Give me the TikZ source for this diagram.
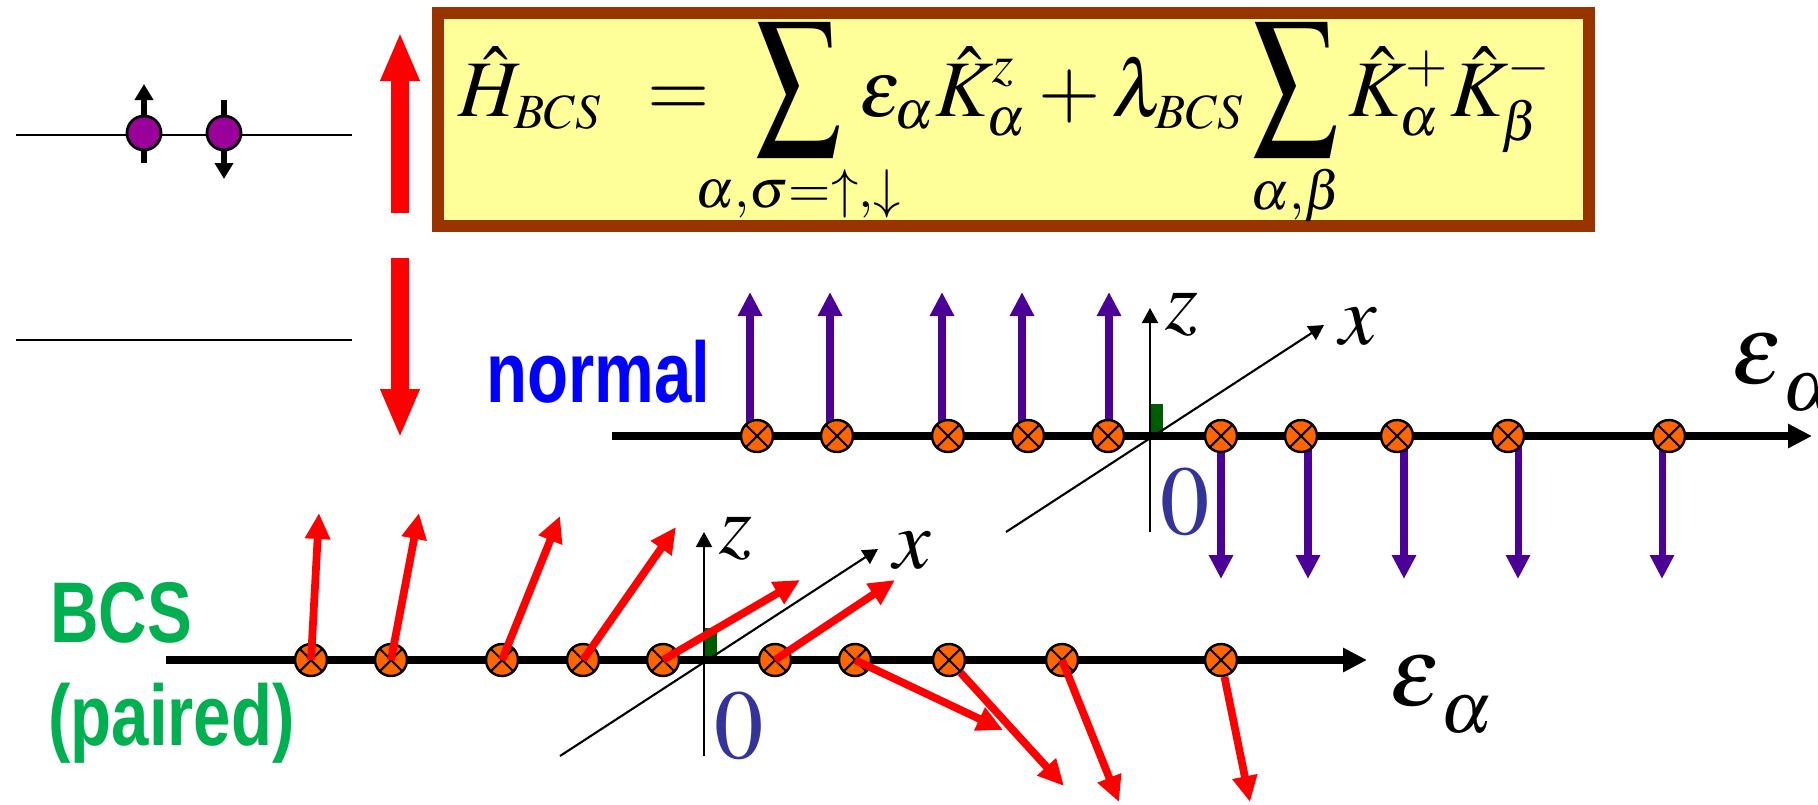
\documentclass[tikz,border=0pt]{standalone}
\usepackage{mathptmx}
\usepackage{mathtools}
\usepackage{fontspec}
\setmainfont{Liberation Serif}
\setsansfont{Liberation Sans}
\usetikzlibrary{arrows.meta}
\DeclareMathSizes{22.8}{22.8}{15.5}{14}
\newcommand{\Bsum}{\mathop{\scalebox{1.05}[1.35]{$\displaystyle\sum$}}\limits}
\newcommand{\Limit}[1]{\raisebox{0.20cm}[\height][\depth]{$\scriptstyle\mathclap{#1}$}}
\definecolor{ink}{HTML}{000000}
\definecolor{brick}{HTML}{993300}
\definecolor{cream}{HTML}{FFFF99}
\definecolor{scarlet}{HTML}{FF0000}
\definecolor{plum}{HTML}{990099}
\definecolor{indigo}{HTML}{4B0096}
\definecolor{tangerine}{HTML}{FF6600}
\definecolor{forest}{HTML}{005C00}
\definecolor{navy}{HTML}{333399}
\definecolor{royal}{HTML}{0000FF}
\definecolor{leaf}{HTML}{00B050}

\begin{document}
\begin{tikzpicture}[
    line width=0.8pt, color=ink,
    gap arrow/.style={draw=scarlet, line width=5.1pt, -{Triangle[length=4.9mm,width=3.6mm]}},
    pair arrow/.style={line width=1.7pt, -{Triangle[length=1.6mm,width=1.8mm]}},
    electron/.style={circle, draw=ink, line width=0.8pt, fill=plum, minimum size=0.34cm, inner sep=0pt},
    energy axis/.style={line width=2.2pt, -{Triangle[length=2.4mm,width=2.3mm]}},
    spin frame/.style={line width=0.6pt, -{Triangle[length=1.5mm,width=1.6mm]}},
    spin up/.style={draw=indigo, line width=2pt, -{Triangle[length=2.4mm,width=2.3mm]}},
    spin red/.style={draw=scarlet, line width=2.2pt, -{Triangle[length=2.6mm,width=2.4mm]}},
    site/.style={circle, draw=ink, line width=0.7pt, fill=tangerine, minimum size=0.32cm, inner sep=0pt,
      path picture={\draw[line width=0.6pt] (path picture bounding box.north west) -- (path picture bounding box.south east)
        (path picture bounding box.north east) -- (path picture bounding box.south west);}},
    lab/.style={inner sep=0pt, font=\fontsize{24}{29}\selectfont},
    zero/.style={inner sep=0pt, font=\fontsize{28}{34}\selectfont, text=navy},
    energy/.style={inner sep=0pt, anchor=base west, font=\fontsize{28}{34}\selectfont},
    phase/.style={inner sep=0pt, anchor=base west, font=\fontsize{24.5}{29}\selectfont\sffamily\bfseries}]
  % fixed 18.18 cm x 8.04 cm canvas
  \path[use as bounding box] (0,0) rectangle (18.18,8.04);

  % ================= 1) two levels and the pair =================
  \draw (0.16,6.69) -- (3.52,6.69);
  \draw (0.16,4.64) -- (3.52,4.64);
  \draw[pair arrow] (1.44,6.41) -- (1.44,7.20);
  \draw[pair arrow] (2.24,7.04) -- (2.24,6.25);
  \node[electron] (eup) at (1.44,6.71) {};
  \node[electron] (edown) at (2.24,6.71) {};
  \draw[gap arrow] (4.00,5.91) -- (4.00,7.72);
  \draw[gap arrow] (4.00,5.46) -- (4.00,3.66);

  % ================= 2) BCS Hamiltonian =================
  \draw[brick, fill=cream, line width=0.12cm] (4.38,5.78) rectangle (15.89,7.91);
  \node[inner sep=0pt, anchor=base west, font=\fontsize{22.8}{27}\selectfont] (ham) at (4.57,6.88)
    {$\displaystyle \hat{H}_{\scriptscriptstyle BCS}\mkern6mu =\hspace{0.28cm}
      \Bsum_{\Limit{\alpha,\sigma=\uparrow,\downarrow}}\mkern2mu\varepsilon_{\alpha}\hat{K}^{z}_{\alpha}
      + \lambda_{\scriptscriptstyle BCS}\Bsum_{\Limit{\alpha,\beta}}\hat{K}^{+}_{\alpha}\hat{K}^{-}_{\beta}$};

  % ================= 3) spin frames (z up, x into the page) =================
  \foreach \ox/\oy/\k in {11.50/3.68/up, 7.04/1.44/lo} {
    \coordinate (o\k) at (\ox,\oy);
    \fill[forest] (o\k) ++(0.01,0) rectangle ++(0.12,0.32);
    \draw[spin frame] (o\k) ++(0,-0.96) -- ++(0,2.24);
    \draw[spin frame] (o\k) ++(-1.44,-0.96) -- ++(3.18,2.07);
    \node[lab] (z\k) at ([shift={(0.32,1.21)}]o\k) {$z$};
    \node[lab] (x\k) at ([shift={(2.08,1.09)}]o\k) {$x$};
    \node[zero] (zero\k) at ([shift={(0.35,-0.66)}]o\k) {$0$};
  }

  % ================= 4) normal state: spins along +z / -z =================
  \draw[energy axis] (6.12,3.68) -- (18.12,3.68);
  \foreach \x [count=\n] in {7.57,8.37,9.48,10.28,11.08,12.21,13.01,13.97,15.08,16.69}
    \coordinate (n\n) at (\x,3.68);
  \foreach \n/\dx in {1/-0.07,2/-0.07,3/-0.06,4/-0.06,5/0.01}
    \draw[spin up] ([xshift=\dx cm]n\n) -- ++(0,1.44);
  \foreach \n/\dx in {6/0.00,7/0.07,8/0.07,9/0.10,10/-0.07}
    \draw[spin up] ([xshift=\dx cm]n\n) -- ++(0,-1.43);
  \foreach \n in {1,...,10}
    \node[site] (s\n) at (n\n) {};

  % ================= 5) BCS state: spins turn over through x =================
  \draw[energy axis] (1.66,1.44) -- (13.67,1.44);
  \foreach \x [count=\n] in {3.11,3.91,5.02,5.83,6.63,7.75,8.55,9.49,10.62,12.21}
    \node[site] (p\n) at (\x,1.44) {};
  \foreach \n/\tx/\ty in {1/3.19/2.91, 2/4.19/2.91, 3/5.60/2.88, 4/6.76/2.77, 5/8.00/2.24,
                         6/8.95/2.24, 7/10.03/0.74, 9/11.19/0.02} {
    \coordinate (t\n) at (\tx,\ty);
    \draw[spin red] (p\n.center) -- (t\n);
  }
  \foreach \n/\tx/\ty in {8/10.64/0.18, 10/12.50/0.02} {
    \coordinate (t\n) at (\tx,\ty);
    \draw[spin red] (p\n) -- (t\n);
  }

  % ================= labels =================
  \node[phase, text=royal] (normal) at (4.85,4.02) {\scalebox{0.78}[1]{normal}};
  \node[phase, text=leaf] (bcs) at (0.49,1.62) {\scalebox{0.78}[1]{BCS}};
  \node[phase, text=leaf] (paired) at (0.47,0.59) {\scalebox{0.78}[1]{(paired)}};
  \node[energy] (epsup) at (17.30,4.21) {$\varepsilon\raisebox{-0.27cm}{$\scriptstyle\alpha$}$};
  \node[energy] (epslo) at (13.88,0.99) {$\varepsilon\raisebox{-0.27cm}{$\scriptstyle\alpha$}$};
\end{tikzpicture}
\end{document}
